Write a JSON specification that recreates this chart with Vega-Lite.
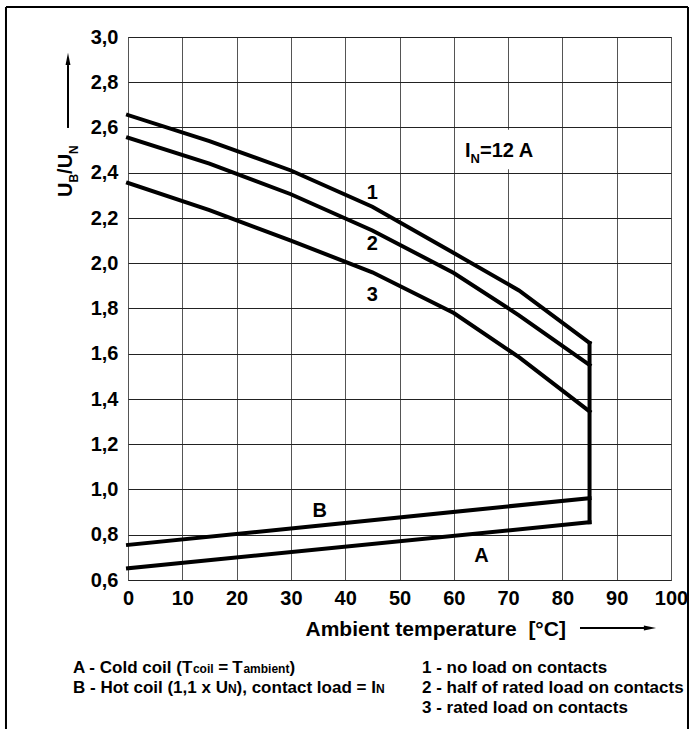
{
  "$schema": "https://vega.github.io/schema/vega-lite/v6.json",
  "width": 543,
  "height": 543,
  "autosize": {"type": "none"},
  "padding": {"left": 128, "top": 37, "right": 24, "bottom": 149},
  "background": "white",
  "config": {
    "view": {"stroke": "#333", "strokeWidth": 1},
    "font": "Liberation Sans, Arial, sans-serif",
    "text": {"font": "Liberation Sans, Arial, sans-serif", "fontWeight": "bold", "color": "black"}
  },
  "encoding": {
    "x": {
      "field": "T", "type": "quantitative",
      "scale": {"domain": [0, 100], "nice": false, "zero": false},
      "axis": {
        "values": [0, 10, 20, 30, 40, 50, 60, 70, 80, 90, 100],
        "format": "d",
        "grid": true, "gridColor": "#555", "gridWidth": 1, "gridOpacity": 1,
        "domain": false, "ticks": false,
        "labelFont": "Liberation Sans, Arial, sans-serif", "labelFontWeight": "bold", "labelFontSize": 20,
        "labelColor": "black", "labelPadding": 8, "labelFlush": false, "labelOverlap": false,
        "title": "Ambient temperature \u00a0[°C]",
        "titleFont": "Liberation Sans, Arial, sans-serif", "titleFontWeight": "bold", "titleFontSize": 21,
        "titleColor": "black", "titleX": 177, "titleY": 55, "titleAlign": "left", "titleBaseline": "alphabetic"
      }
    },
    "y": {
      "field": "v", "type": "quantitative",
      "scale": {"domain": [0.6, 3.0], "nice": false, "zero": false},
      "axis": {
        "values": [0.6, 0.8, 1.0, 1.2, 1.4, 1.6, 1.8, 2.0, 2.2, 2.4, 2.6, 2.8, 3.0],
        "labelExpr": "replace(format(datum.value, '.1f'), '.', ',')",
        "grid": true, "gridColor": "#222", "gridWidth": 1, "gridOpacity": 1,
        "domain": false, "ticks": false,
        "labelFont": "Liberation Sans, Arial, sans-serif", "labelFontWeight": "bold", "labelFontSize": 20,
        "labelColor": "black", "labelPadding": 10, "labelFlush": false, "labelOverlap": false,
        "title": null
      }
    }
  },
  "layer": [
    {
      "data": {"values": [{"T": 61.5, "T2": 76.5, "v": 2.415, "v2": 2.59}]},
      "mark": {"type": "rect", "fill": "white"},
      "encoding": {"x2": {"field": "T2"}, "y2": {"field": "v2"}}
    },
    {
      "data": {"values": [
        {"series": "1", "T": 0, "v": 2.655}, {"series": "1", "T": 15, "v": 2.54}, {"series": "1", "T": 30, "v": 2.41},
        {"series": "1", "T": 45, "v": 2.25}, {"series": "1", "T": 60, "v": 2.045}, {"series": "1", "T": 72, "v": 1.88},
        {"series": "1", "T": 85, "v": 1.648},
        {"series": "2", "T": 0, "v": 2.555}, {"series": "2", "T": 15, "v": 2.44}, {"series": "2", "T": 30, "v": 2.305},
        {"series": "2", "T": 45, "v": 2.145}, {"series": "2", "T": 60, "v": 1.957}, {"series": "2", "T": 72, "v": 1.77},
        {"series": "2", "T": 85, "v": 1.55},
        {"series": "3", "T": 0, "v": 2.355}, {"series": "3", "T": 15, "v": 2.235}, {"series": "3", "T": 30, "v": 2.1},
        {"series": "3", "T": 45, "v": 1.96}, {"series": "3", "T": 60, "v": 1.78}, {"series": "3", "T": 72, "v": 1.585},
        {"series": "3", "T": 85, "v": 1.345},
        {"series": "V", "T": 85, "v": 1.648}, {"series": "V", "T": 85, "v": 0.855},
        {"series": "A", "T": 0, "v": 0.652}, {"series": "A", "T": 85, "v": 0.855},
        {"series": "B", "T": 0, "v": 0.755}, {"series": "B", "T": 85, "v": 0.962}
      ]},
      "mark": {"type": "line", "color": "black", "strokeWidth": 4, "strokeJoin": "miter", "strokeCap": "square"},
      "encoding": {"detail": {"field": "series"}}
    },
    {
      "data": {"values": [
        {"text": "1", "T": 45, "v": 2.31},
        {"text": "2", "T": 45, "v": 2.085},
        {"text": "3", "T": 45, "v": 1.86},
        {"text": "A", "T": 65.1, "v": 0.706},
        {"text": "B", "T": 35.3, "v": 0.907}
      ]},
      "mark": {"type": "text", "fontSize": 20, "align": "center", "baseline": "middle"},
      "encoding": {"text": {"field": "text"}}
    },
    {
      "data": {"values": [
        {"text": "I", "T": 62.063, "v": 2.4696},
        {"text": "=12 A", "T": 64.825, "v": 2.4696}
      ]},
      "mark": {"type": "text", "fontSize": 20, "align": "left", "baseline": "alphabetic"},
      "encoding": {"text": {"field": "text"}}
    },
    {
      "data": {"values": [
        {"text": "N", "T": 63.094, "v": 2.443}
      ]},
      "mark": {"type": "text", "fontSize": 13, "align": "left", "baseline": "alphabetic"},
      "encoding": {"text": {"field": "text"}}
    },
    {
      "data": {"values": [
        {"text": "U", "T": -10.31, "v": 2.2928},
        {"text": "/U", "T": -10.31, "v": 2.3949}
      ]},
      "mark": {"type": "text", "fontSize": 20, "angle": 270, "align": "left", "baseline": "alphabetic"},
      "encoding": {"text": {"field": "text"}}
    },
    {
      "data": {"values": [
        {"text": "B", "T": -9.21, "v": 2.3565},
        {"text": "N", "T": -9.21, "v": 2.4833}
      ]},
      "mark": {"type": "text", "fontSize": 12, "angle": 270, "align": "left", "baseline": "alphabetic"},
      "encoding": {"text": {"field": "text"}}
    },
    {
      "data": {"values": [
        {"text": "A - Cold coil (T", "T": -10.129, "v": 0.1903},
        {"text": "=", "T": 16.6, "v": 0.1903},
        {"text": "T", "T": 19.2, "v": 0.1903},
        {"text": ")", "T": 29.724, "v": 0.1903},
        {"text": "B - Hot coil (1,1 x U", "T": -10.129, "v": 0.1019},
        {"text": "), contact load = I", "T": 19.993, "v": 0.1019},
        {"text": "1 - no load on contacts", "T": 54.144, "v": 0.1903},
        {"text": "2 - half of rated load on contacts", "T": 54.144, "v": 0.1019},
        {"text": "3 - rated load on contacts", "T": 54.144, "v": 0.0135}
      ]},
      "mark": {"type": "text", "fontSize": 17, "align": "left", "baseline": "alphabetic"},
      "encoding": {"text": {"field": "text"}}
    },
    {
      "data": {"values": [
        {"text": "coil", "T": 11.961, "v": 0.1903},
        {"text": "ambient", "T": 21.25, "v": 0.1903},
        {"text": "N", "T": 18.398, "v": 0.1019},
        {"text": "N", "T": 45.656, "v": 0.1019}
      ]},
      "mark": {"type": "text", "fontSize": 12, "align": "left", "baseline": "alphabetic"},
      "encoding": {"text": {"field": "text"}}
    },
    {
      "data": {"values": [
        {"T": -11.05, "v": 2.598, "v2": 2.876},
        {"T": -22.47, "v": 3.133, "v2": -0.06},
        {"T": 103.13, "v": 3.133, "v2": -0.06}
      ]},
      "mark": {"type": "rule", "color": "black", "strokeWidth": 2},
      "encoding": {"y2": {"field": "v2"}}
    },
    {
      "data": {"values": [
        {"T": 83.24, "T2": 95.5, "v": 0.3878},
        {"T": -22.47, "T2": 103.13, "v": 3.133}
      ]},
      "mark": {"type": "rule", "color": "black", "strokeWidth": 2},
      "encoding": {"x2": {"field": "T2"}}
    },
    {
      "data": {"values": [{"T": -11.05, "v": 2.9028}]},
      "mark": {"type": "point", "shape": "M0,-1L0.4,1L-0.4,1Z", "size": 150, "filled": true, "color": "black", "opacity": 1}
    },
    {
      "data": {"values": [{"T": 96.13, "v": 0.3878}]},
      "mark": {"type": "point", "shape": "M1,0L-1,0.4L-1,-0.4Z", "size": 150, "filled": true, "color": "black", "opacity": 1}
    }
  ]
}
